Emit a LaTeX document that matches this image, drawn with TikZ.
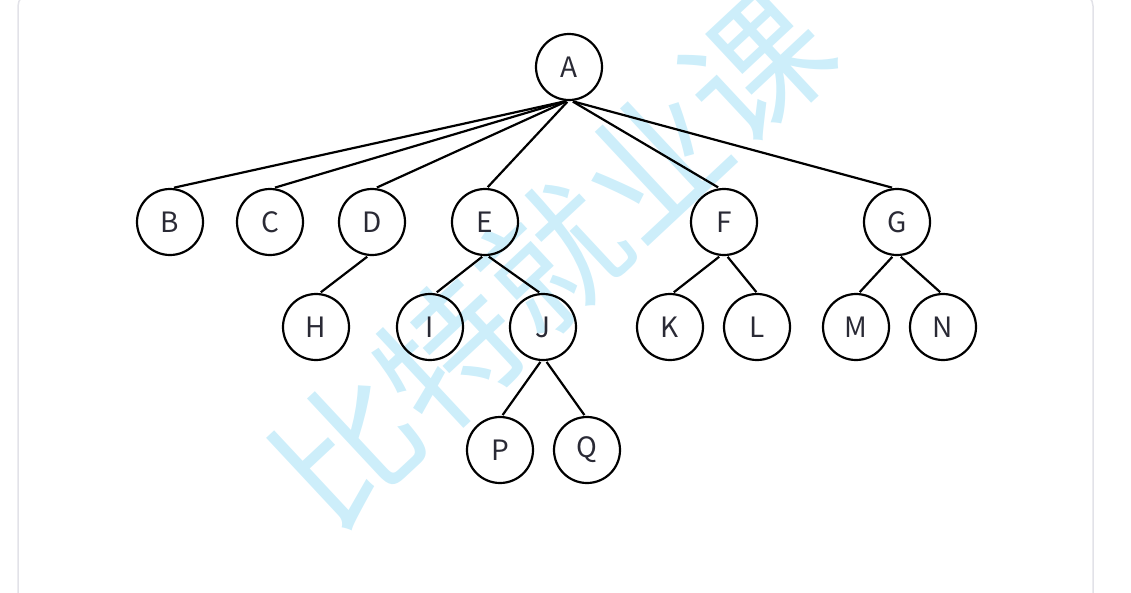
\documentclass[tikz,border=0pt]{standalone}
\usepackage{fontspec}
\setmainfont{Noto Sans CJK SC}
\newfontfamily\cjkwm{Noto Sans CJK SC}
\definecolor{wmblue}{HTML}{CDEEFA}
\definecolor{cardgray}{HTML}{E2E2E8}
\definecolor{txt}{HTML}{2A2A35}
\begin{document}
\begin{tikzpicture}[x=1pt,y=-1pt,
  tnode/.style={circle,draw=black,line width=2.2pt,minimum size=66pt,inner sep=0pt,
    font=\fontsize{28}{32}\selectfont,text=txt},
  edge/.style={line width=2.2pt,draw=black,shorten <=1pt,shorten >=1pt}]
\useasboundingbox (0,0) rectangle (1131,592);
\draw[cardgray,line width=1.5pt,rounded corners=12pt] (18,-6) rectangle (1093,610);
\node[rotate=43,text=wmblue,font=\cjkwm\fontsize{140}{140}\selectfont] (wm) at (552,258) {比特就业课};
% nodes
\node[tnode] (A) at (569,67) {A};
\node[tnode] (B) at (170,222) {B};
\node[tnode] (C) at (270,222) {C};
\node[tnode] (D) at (372,222) {D};
\node[tnode] (E) at (485,222) {E};
\node[tnode] (F) at (724,222) {F};
\node[tnode] (G) at (897,222) {G};
\node[tnode] (H) at (316,327) {H};
\node[tnode] (I) at (430,327) {I};
\node[tnode] (J) at (543,327) {J};
\node[tnode] (K) at (670,327) {K};
\node[tnode] (L) at (757,327) {L};
\node[tnode] (M) at (856,327) {M};
\node[tnode] (N) at (943,327) {N};
\node[tnode] (P) at (500,450) {P};
\node[tnode] (Q) at (587,450) {Q};
% edges
\draw[edge] ([xshift=-3pt]A.south) -- ([xshift=3pt]B.north);
\draw[edge] ([xshift=-3pt]A.south) -- ([xshift=4pt]C.north);
\draw[edge] ([xshift=-2pt]A.south) -- ([xshift=4pt]D.north);
\draw[edge] ([xshift=-1pt]A.south) -- ([xshift=2pt]E.north);
\draw[edge] ([xshift=3pt]A.south) -- ([xshift=-5pt]F.north);
\draw[edge] ([xshift=3pt]A.south) -- ([xshift=-4pt]G.north);
\draw[edge] ([xshift=-4pt]D.south) -- ([xshift=4pt]H.north);
\draw[edge] ([xshift=-2pt]E.south) -- ([xshift=6pt]I.north);
\draw[edge] ([xshift=3pt]E.south) -- ([xshift=-3pt]J.north);
\draw[edge] ([xshift=-2pt]J.south) -- ([xshift=2pt]P.north);
\draw[edge] ([xshift=3pt]J.south) -- ([xshift=-2pt]Q.north);
\draw[edge] ([xshift=-4pt]F.south) -- ([xshift=3pt]K.north);
\draw[edge] ([xshift=3pt]F.south) -- ([xshift=0pt]L.north);
\draw[edge] ([xshift=-4pt]G.south) -- ([xshift=3pt]M.north);
\draw[edge] ([xshift=3pt]G.south) -- ([xshift=-2pt]N.north);
\end{tikzpicture}
\end{document}
